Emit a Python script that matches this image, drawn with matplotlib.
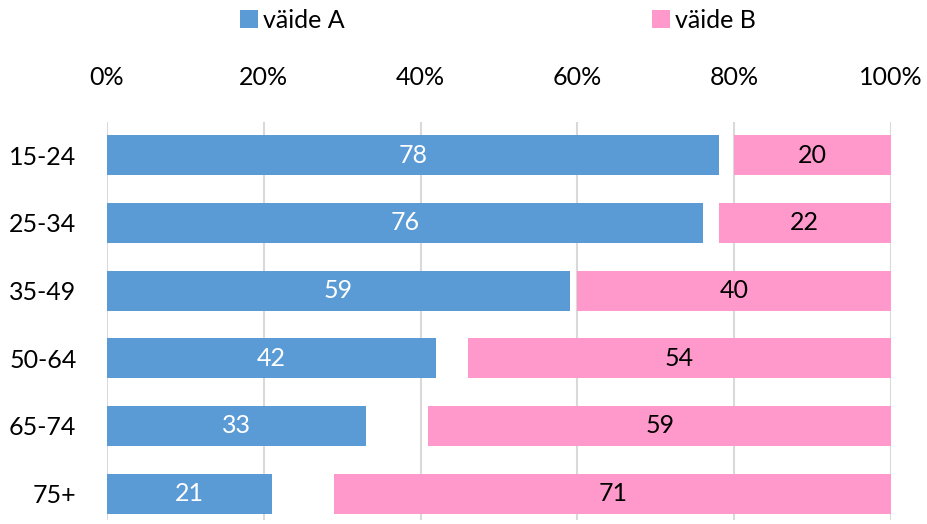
import matplotlib.pyplot as plt
import numpy as np

plt.rcParams['font.family'] = ['Lato', 'DejaVu Sans']

groups = ['15-24', '25-34', '35-49', '50-64', '65-74', '75+']
vaide_a = [78, 76, 59, 42, 33, 21]
vaide_b = [20, 22, 40, 54, 59, 71]
ticks = [0, 20, 40, 60, 80, 100]

blue = '#5B9BD5'
pink = '#FF99CC'

fig = plt.figure(figsize=(9.27, 5.24), dpi=100)
ax = fig.add_axes([107/927, 1-520/524, (891-107)/927, (520-122)/524])

y = np.arange(len(groups))
a = np.array(vaide_a)
b = np.array(vaide_b)
h = 0.59

ba = ax.barh(y, a, height=h, color=blue, label='väide A', zorder=2)
bb = ax.barh(y, b, left=100 - b, height=h, color=pink, label='väide B', zorder=2)

for yi, v in zip(y, a):
    ax.text(v / 2, yi, str(v), ha='center', va='center', color='white', fontsize=18, zorder=3)
for yi, v in zip(y, b):
    ax.text(100 - v / 2, yi, str(v), ha='center', va='center', color='black', fontsize=18, zorder=3)

ax.set_xlim(0, 100)
ax.set_ylim(5.39, -0.49)
ax.set_xticks(ticks)
ax.set_xticklabels([f'{t}%' for t in ticks], fontsize=18)
ax.xaxis.tick_top()
ax.set_yticks(y)
ax.set_yticklabels(groups, fontsize=18)
ax.tick_params(axis='both', length=0)
ax.tick_params(axis='x', pad=24)
ax.tick_params(axis='y', pad=22)
for s in ax.spines.values():
    s.set_visible(False)
ax.grid(axis='x', color='#D9D9D9', lw=1.5, zorder=0)
ax.set_axisbelow(True)

fig.legend(handles=[ba, bb], loc='center', bbox_to_anchor=(498/927, 1-20/524), ncol=2,
           frameon=False, fontsize=18, handlelength=0.72, handleheight=0.72,
           handletextpad=0.2, columnspacing=12.3, borderpad=0)

fig.savefig('out.png', dpi=100)
